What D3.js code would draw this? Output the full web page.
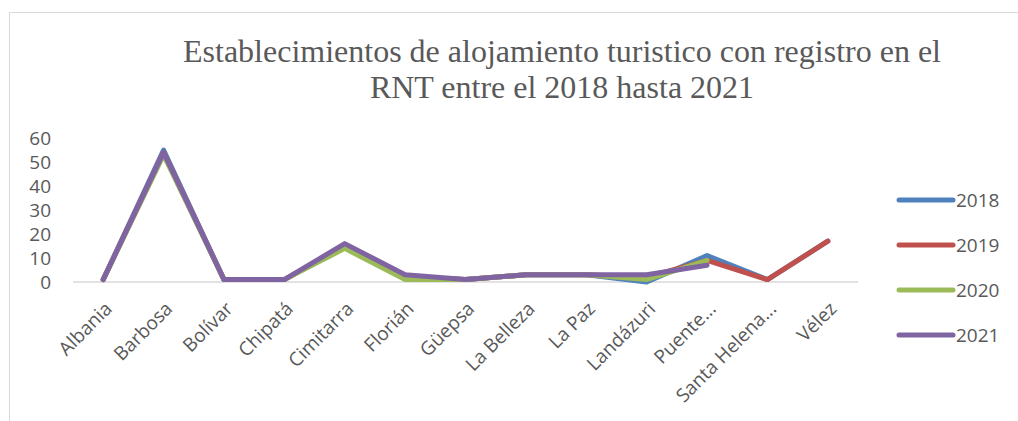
<!DOCTYPE html>
<html>
<head>
<meta charset="utf-8">
<script src="https://cdn.jsdelivr.net/npm/d3@7"></script>
<style>
  body { margin: 0; background: #fff; }
  svg { display: block; }
</style>
</head>
<body>
<div id="chart"></div>
<script>
const categories = ['Albania', 'Barbosa', 'Bolívar', 'Chipatá', 'Cimitarra', 'Florián', 'Güepsa',
    'La Belleza', 'La Paz', 'Landázuri', 'Puente...', 'Santa Helena...', 'Vélez'];
const years = ['2018', '2019', '2020', '2021'];
const values2018 = [1, 55, 1, 1, 15, 2, 1, 3, 3, 0, 11, 1, 17];
const values2019 = [1, 54, 1, 1, 15, 2, 1, 3, 3, 2, 9, 1, 17];
const values2020 = [1, 53, 1, 1, 14, 1, 1, 3, 3, 1, 9, null, null];
const values2021 = [1, 54, 1, 1, 16, 3, 1, 3, 3, 3, 7, null, null];
const yTicks = [0, 10, 20, 30, 40, 50, 60];
const colors = ['#4F81BD', '#C0504D', '#9BBB59', '#8064A2'];

const series = years.map((y, i) => ({
    name: y,
    values: [values2018, values2019, values2020, values2021][i],
    color: colors[i]
}));

const width = 1018, height = 421;
const svg = d3.select('#chart').append('svg')
    .attr('width', width)
    .attr('height', height);

// chart frame
svg.append('rect')
    .attr('x', 9.5).attr('y', 12.5)
    .attr('width', 1020).attr('height', 420)
    .attr('fill', 'none')
    .attr('stroke', '#d9d9d9')
    .attr('stroke-width', 1);

// Title
const title = svg.append('text')
    .attr('text-anchor', 'middle')
    .style('font-family', '"Liberation Serif", "Times New Roman", serif')
    .style('font-size', '32px')
    .style('fill', '#595959');
title.append('tspan').attr('x', 562).attr('y', 62)
    .text('Establecimientos de alojamiento turistico con registro en el');
title.append('tspan').attr('x', 562).attr('y', 98)
    .text('RNT entre el 2018 hasta 2021');

const x = d3.scaleBand()
    .domain(categories)
    .range([73, 858]);

const y = d3.scaleLinear()
    .domain([0, 60])
    .range([282, 138]);

const labelFont = '"Open Sans", sans-serif';

// y tick labels
svg.append('g')
    .selectAll('text')
    .data(yTicks)
    .enter().append('text')
    .attr('x', 51)
    .attr('y', d => y(d))
    .attr('dy', '0.36em')
    .attr('text-anchor', 'end')
    .style('font-family', labelFont)
    .style('font-size', '19px')
    .style('fill', '#595959')
    .text(d => d);

// baseline
svg.append('line')
    .attr('x1', 73).attr('x2', 858)
    .attr('y1', y(0)).attr('y2', y(0))
    .attr('stroke', '#d9d9d9')
    .attr('stroke-width', 1.5);

// x labels
svg.append('g')
    .selectAll('text')
    .data(categories)
    .enter().append('text')
    .attr('text-anchor', 'end')
    .attr('transform', d => `translate(${x(d) + x.bandwidth() / 2 + 10}, ${y(0) + 28}) rotate(-45)`)
    .style('font-family', labelFont)
    .style('font-size', '19px')
    .style('fill', '#595959')
    .text(d => d);

const line = d3.line()
    .defined(d => d != null)
    .x((d, i) => x(categories[i]) + x.bandwidth() / 2)
    .y(d => y(d));

svg.append('g')
    .selectAll('path')
    .data(series)
    .enter().append('path')
    .attr('d', d => line(d.values))
    .attr('fill', 'none')
    .attr('stroke', d => d.color)
    .attr('stroke-width', 5)
    .attr('stroke-linecap', 'round')
    .attr('stroke-linejoin', 'round');

// legend
const legend = svg.append('g')
    .selectAll('g')
    .data(series)
    .enter().append('g')
    .attr('transform', (d, i) => `translate(0, ${200 + i * 45})`);

legend.append('line')
    .attr('x1', 899).attr('x2', 953)
    .attr('stroke', d => d.color)
    .attr('stroke-width', 5)
    .attr('stroke-linecap', 'round');

legend.append('text')
    .attr('x', 956)
    .attr('dy', '0.36em')
    .style('font-family', labelFont)
    .style('font-size', '19px')
    .style('fill', '#595959')
    .text(d => d.name);
</script>
</body>
</html>
